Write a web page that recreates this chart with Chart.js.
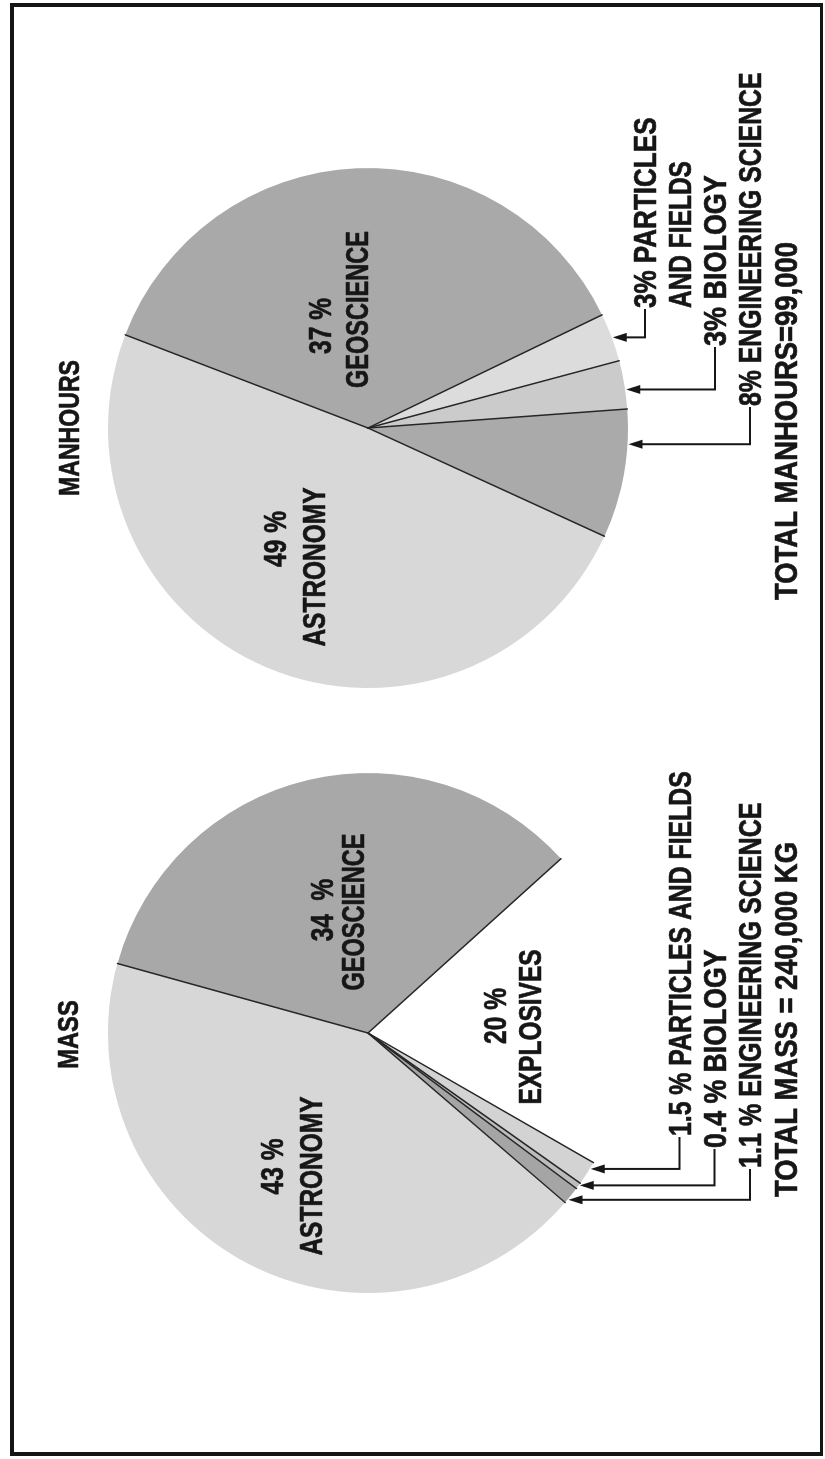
<!DOCTYPE html>
<html>
<head>
<meta charset="utf-8">
<script src="https://cdn.jsdelivr.net/npm/chart.js@4.4.1/dist/chart.umd.min.js"></script>
<style>
  html, body { margin: 0; padding: 0; background: #fff; width: 825px; height: 1459px; overflow: hidden; }
  /* The sheet is laid out in landscape and turned a quarter turn counter-clockwise. */
  #sheet { position: absolute; left: 0; top: 0; width: 1459px; height: 825px;
           transform-origin: 0 0; transform: translateY(1459px) rotate(-90deg); background: #fff; }
  #frame { position: absolute; left: 3px; top: 9.5px; width: 1453px; height: 813px;
           box-sizing: border-box; border: 4px solid #151515; border-bottom-width: 3px; }
  #massBox { position: absolute; left: 0; top: 0; width: 729px; height: 825px; }
  #hoursBox { position: absolute; left: 729px; top: 0; width: 730px; height: 825px; }
</style>
</head>
<body>
<div id="sheet">
  <div id="frame"></div>
  <div id="massBox"><canvas id="massChart" width="729" height="825"></canvas></div>
  <div id="hoursBox"><canvas id="hoursChart" width="730" height="825"></canvas></div>
</div>
<script>
// ---- data ----
const massCategories = ['GEOSCIENCE', 'EXPLOSIVES', 'PARTICLES AND FIELDS', 'BIOLOGY', 'ENGINEERING SCIENCE', 'ASTRONOMY'];
const massValues = [34, 20, 1.5, 0.4, 1.1, 43];
const massTotal = '240,000 KG';

const hoursCategories = ['GEOSCIENCE', 'PARTICLES AND FIELDS', 'BIOLOGY', 'ENGINEERING SCIENCE', 'ASTRONOMY'];
const hoursValues = [37, 3, 3, 8, 49];
const hoursTotal = '99,000';

// ---- styling ----
const massColors = ['#a8a8a8', '#ffffff', '#d3d3d3', '#bcbcbc', '#a5a5a5', '#d7d7d7'];
const hoursColors = ['#a9a9a9', '#dcdcdc', '#cbcbcb', '#aaaaaa', '#d8d8d8'];
const INK = '#161616';
const SQUEEZE = 0.79;          // condensed lettering
const FONT = '"Liberation Sans", Arial, sans-serif';

function drawText(ctx, text, x, yMid, align, size, squeeze) {
  const sq = squeeze || SQUEEZE;
  ctx.save();
  ctx.font = 'bold ' + size + 'px ' + FONT;
  ctx.textBaseline = 'alphabetic';
  ctx.textAlign = 'left';
  ctx.fillStyle = INK;
  ctx.strokeStyle = INK;
  ctx.lineWidth = 0.7;
  ctx.lineJoin = 'round';
  const w = ctx.measureText(text).width * sq;
  let left = x;
  if (align === 'center') left = x - w / 2;
  else if (align === 'right') left = x - w;
  ctx.translate(left, yMid + size * 0.358);
  ctx.scale(sq, 1);
  ctx.fillText(text, 0, 0);
  ctx.strokeText(text, 0, 0);
  ctx.restore();
}

function arcProps(arc) {
  return arc.getProps(['x', 'y', 'startAngle', 'endAngle', 'outerRadius'], true);
}

// dark radial rules between the slices
const sliceRules = {
  id: 'sliceRules',
  afterDatasetsDraw(chart) {
    const ctx = chart.ctx;
    ctx.save();
    ctx.strokeStyle = '#262626';
    ctx.lineWidth = 1.5;
    ctx.lineCap = 'round';
    chart.getDatasetMeta(0).data.forEach(arc => {
      const p = arcProps(arc);
      ctx.beginPath();
      ctx.moveTo(p.x, p.y);
      ctx.lineTo(p.x + p.outerRadius * Math.cos(p.startAngle), p.y + p.outerRadius * Math.sin(p.startAngle));
      ctx.stroke();
    });
    ctx.restore();
  }
};

// arrow from the rim of a slice down to its caption
function drawCallout(ctx, arc, frac, textX, textY, size, text, squeeze) {
  const p = arcProps(arc);
  const a = p.startAngle + frac * (p.endAngle - p.startAngle);
  const tx = p.x + p.outerRadius * Math.cos(a);
  const ty = p.y + p.outerRadius * Math.sin(a) + 1;
  ctx.save();
  ctx.strokeStyle = INK;
  ctx.fillStyle = INK;
  ctx.lineWidth = 2;
  ctx.beginPath();
  ctx.moveTo(tx, ty + 6);
  ctx.lineTo(tx, textY);
  ctx.lineTo(textX - 1, textY);
  ctx.stroke();
  ctx.beginPath();
  ctx.moveTo(tx, ty);
  ctx.lineTo(tx - 4.5, ty + 14);
  ctx.lineTo(tx + 4.5, ty + 14);
  ctx.closePath();
  ctx.fill();
  ctx.restore();
  drawText(ctx, text, textX, textY, 'left', size, squeeze);
}

function pct(v, sep) { return v + sep + '%'; }

const massText = {
  id: 'massText',
  afterDraw(chart) {
    const ctx = chart.ctx;
    const arcs = chart.getDatasetMeta(0).data;
    drawText(ctx, 'MASS', 424.5, 67, 'center', 30);
    // inside the slices
    drawText(ctx, pct(massValues[5], ' '), 292.5, 272, 'center', 31);
    drawText(ctx, massCategories[5], 283, 310.5, 'center', 31);
    drawText(ctx, pct(massValues[0], '  '), 549, 322, 'center', 31);
    drawText(ctx, massCategories[0], 547, 353, 'center', 31, 0.76);
    drawText(ctx, pct(massValues[1], ' '), 443, 495, 'center', 31);
    drawText(ctx, massCategories[1], 432, 530, 'center', 31);
    // captions for the thin slices
    drawCallout(ctx, arcs[2], 0.3, 323, 679.5, 31, pct(massValues[2], ' ') + ' ' + massCategories[2], 0.8);
    drawCallout(ctx, arcs[3], 0.4, 311, 714.5, 31, pct(massValues[3], ' ') + ' ' + massCategories[3], 0.86);
    drawCallout(ctx, arcs[4], 0.8, 291, 750, 31, pct(massValues[4], ' ') + ' ' + massCategories[4], 0.81);
    drawText(ctx, 'TOTAL MASS = ' + massTotal, 262, 785.5, 'left', 31, 0.885);
  }
};

const hoursText = {
  id: 'hoursText',
  afterDraw(chart) {
    const ctx = chart.ctx;
    const arcs = chart.getDatasetMeta(0).data;
    drawText(ctx, 'MANHOURS', 302, 68, 'center', 30, 0.77);
    drawText(ctx, pct(hoursValues[4], ' '), 191, 275, 'center', 31);
    drawText(ctx, hoursCategories[4], 163, 314, 'center', 31);
    drawText(ctx, pct(hoursValues[0], ' '), 404, 320, 'center', 31);
    drawText(ctx, hoursCategories[0], 420.5, 356.5, 'center', 31, 0.76);
    drawCallout(ctx, arcs[1], 0.5, 422, 645, 31, pct(hoursValues[1], '') + ' PARTICLES', 0.84);
    drawText(ctx, 'AND FIELDS', 422, 680, 'left', 31);
    drawCallout(ctx, arcs[2], 0.6, 384, 715, 31, pct(hoursValues[2], '') + ' ' + hoursCategories[2], 0.87);
    drawCallout(ctx, arcs[3], 0.27, 324, 750, 31, pct(hoursValues[3], '') + ' ' + hoursCategories[3], 0.8);
    drawText(ctx, 'TOTAL MANHOURS=' + hoursTotal, 130, 785.5, 'left', 31, 0.885);
  }
};

function pieConfig(labels, values, colors, rotation, padding, textPlugin) {
  return {
    type: 'pie',
    data: {
      labels: labels,
      datasets: [{
        data: values,
        backgroundColor: colors,
        borderWidth: 0,
        hoverOffset: 0,
        offset: 0
      }]
    },
    options: {
      responsive: false,
      animation: false,
      events: [],
      rotation: rotation,
      layout: { padding: padding },
      plugins: { legend: { display: false }, tooltip: { enabled: false }, title: { display: false } }
    },
    plugins: [sliceRules, textPlugin]
  };
}

new Chart(document.getElementById('massChart'),
  pieConfig(massCategories, massValues, massColors, 15.5,
            { left: 166, top: 108, right: 43, bottom: 197 }, massText));

new Chart(document.getElementById('hoursChart'),
  pieConfig(hoursCategories, hoursValues, hoursColors, 21,
            { left: 42, top: 108, right: 168, bottom: 197 }, hoursText));
</script>
</body>
</html>
